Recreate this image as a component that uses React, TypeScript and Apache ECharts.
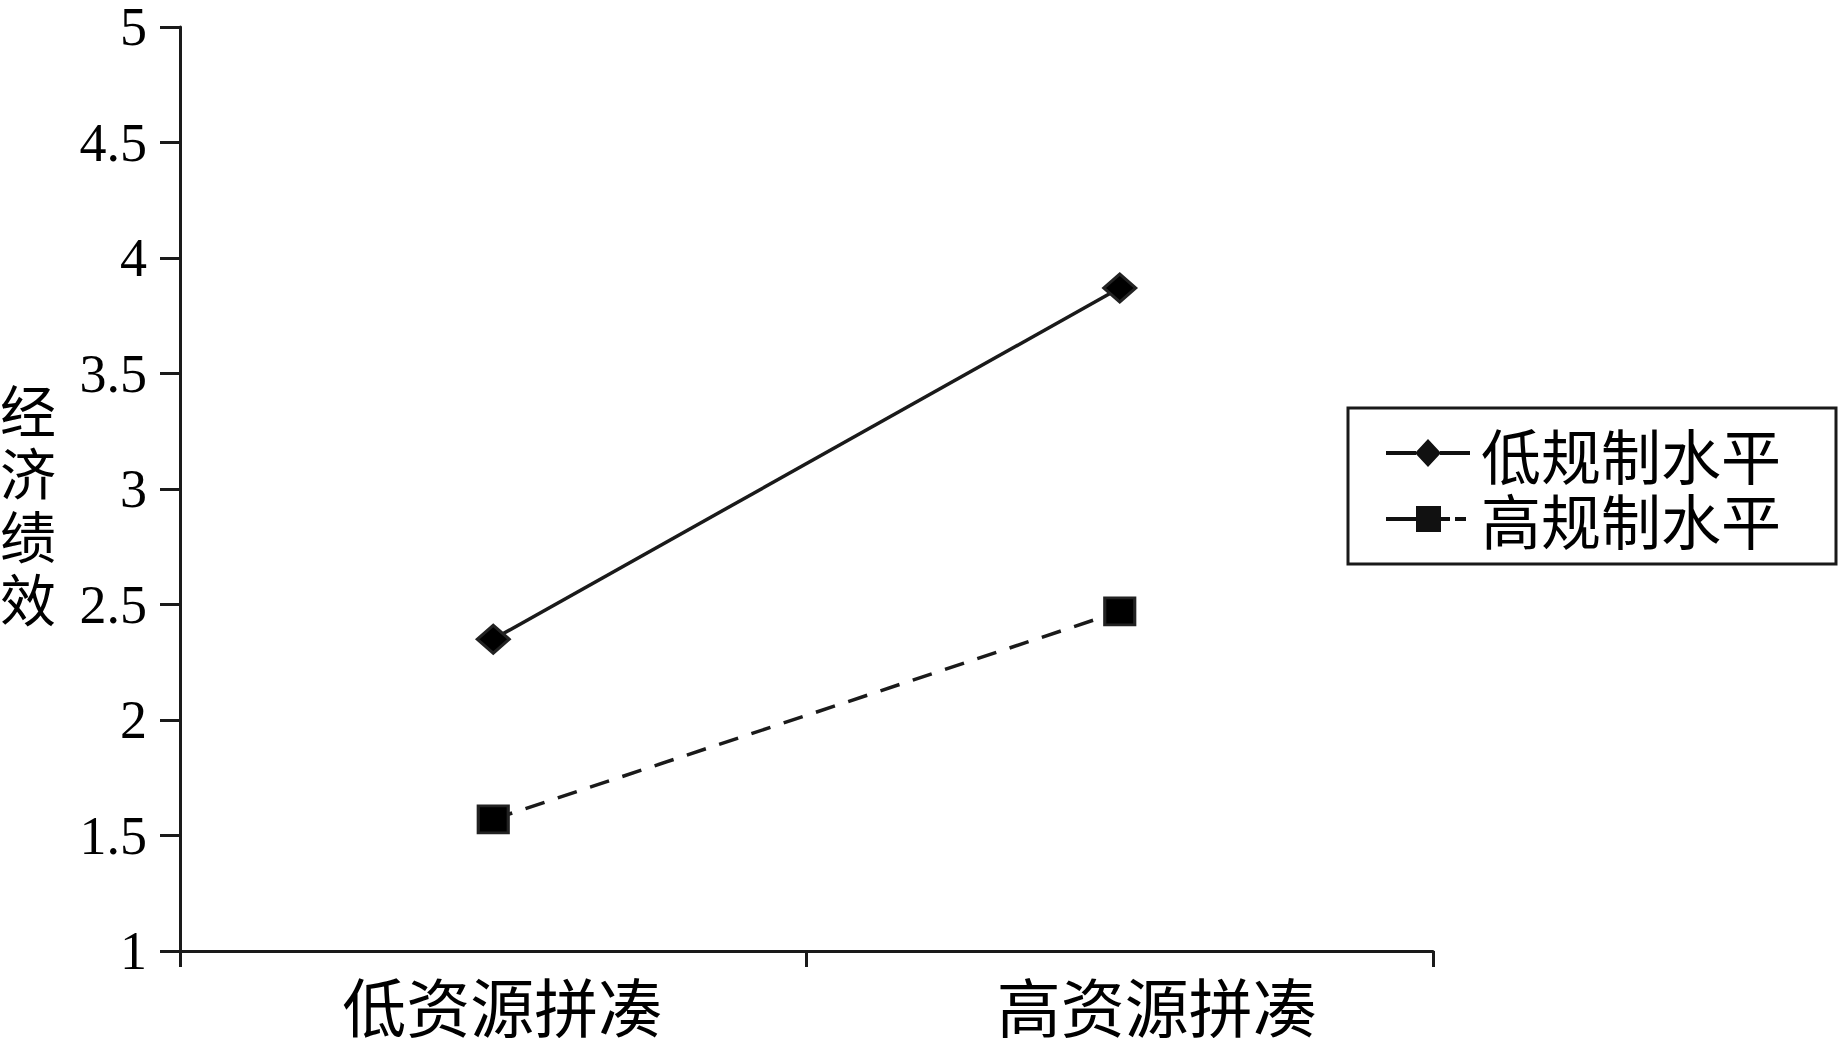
import React, { useEffect, useRef } from "react";
import * as echarts from "echarts";

const categories = ["低资源拼凑", "高资源拼凑"];
const seriesNames = ["低规制水平", "高规制水平"];
const lowRegulation = [2.35, 3.87];
const highRegulation = [1.57, 2.47];
const yAxisTitle = "经济绩效";

// legend icons (line + marker), drawn in an 84 x 28 box
const iconLow =
  "path://M0,12L30,12L30,16L0,16Z M29,14L42,0L55,14L42,28Z M54,12L84,12L84,16L54,16Z";
const iconHigh =
  "path://M0,12L30,12L30,16L0,16Z M30,1L55,1L55,27L30,27Z M55,12L64,12L64,16L55,16Z M69,12L80,12L80,16L69,16Z M0,0L0.01,0L0.01,0.01Z M83.99,27.99L84,27.99L84,28Z";

export default function App() {
  const ref = useRef<HTMLDivElement>(null);
  useEffect(() => {
    if (!ref.current) return;
    const chart = echarts.init(ref.current, null, { renderer: "svg" });
    const cjk = '"Noto Sans CJK SC", "Noto Sans", sans-serif';
    const serif = '"Liberation Serif", "DejaVu Serif", serif';
    chart.setOption({
      animation: false,
      backgroundColor: "#ffffff",
      grid: { left: 180, top: 23, right: 409, bottom: 87, containLabel: false },
      legend: {
        orient: "vertical",
        left: 1348,
        top: 408,
        padding: [15, 55, 15, 38],
        itemGap: 6,
        itemWidth: 84,
        itemHeight: 28,
        borderColor: "#1a1a1a",
        borderWidth: 3,
        borderRadius: 0,
        itemStyle: { color: "#111", borderWidth: 0 },
        textStyle: { fontFamily: cjk, fontSize: 60, color: "#000", padding: [0, 0, 0, 6] },
        data: [
          { name: seriesNames[0], icon: iconLow },
          { name: seriesNames[1], icon: iconHigh },
        ],
      },
      xAxis: {
        type: "category",
        data: categories,
        boundaryGap: true,
        axisLine: { lineStyle: { color: "#1a1a1a", width: 3 } },
        axisTick: { show: true, inside: false, length: 16, lineStyle: { color: "#1a1a1a", width: 3 } },
        axisLabel: {
          margin: 21,
          fontFamily: cjk,
          fontSize: 64,
          color: "#000",
          formatter: (v: string, i: number) => (i === 0 ? `{a|${v}}` : `{b|${v}}`),
          rich: {
            a: { fontFamily: cjk, fontSize: 64, color: "#000", padding: [0, 0, 0, 18] },
            b: { fontFamily: cjk, fontSize: 64, color: "#000", padding: [0, 0, 0, 74] },
          },
        },
        splitLine: { show: false },
      },
      yAxis: {
        type: "value",
        min: 1,
        max: 5,
        interval: 0.5,
        axisLine: { show: true, lineStyle: { color: "#1a1a1a", width: 3 } },
        axisTick: { show: true, inside: false, length: 20, lineStyle: { color: "#1a1a1a", width: 3 } },
        axisLabel: { margin: 33, fontFamily: serif, fontSize: 54, color: "#000" },
        splitLine: { show: false },
      },
      graphic: [
        {
          type: "text",
          left: 0,
          top: 376,
          style: {
            text: yAxisTitle.split("").join("\n"),
            font: `56px ${cjk}`,
            lineHeight: 63,
            fill: "#000",
          },
        },
      ],
      series: [
        {
          name: seriesNames[0],
          type: "line",
          data: lowRegulation,
          symbol: "diamond",
          symbolSize: [32, 28],
          lineStyle: { color: "#1a1a1a", width: 3.5, type: "solid" },
          itemStyle: { color: "#000", borderColor: "#222", borderWidth: 3 },
        },
        {
          name: seriesNames[1],
          type: "line",
          data: highRegulation,
          symbol: "rect",
          symbolSize: [30, 27],
          lineStyle: { color: "#1a1a1a", width: 3.5, type: [20, 14] },
          itemStyle: { color: "#000", borderColor: "#222", borderWidth: 3 },
        },
      ],
    });
    return () => chart.dispose();
  }, []);
  return (
    <div
      ref={ref}
      style={{ position: "fixed", left: 0, top: 0, width: 1842, height: 1038, background: "#fff" }}
    />
  );
}
